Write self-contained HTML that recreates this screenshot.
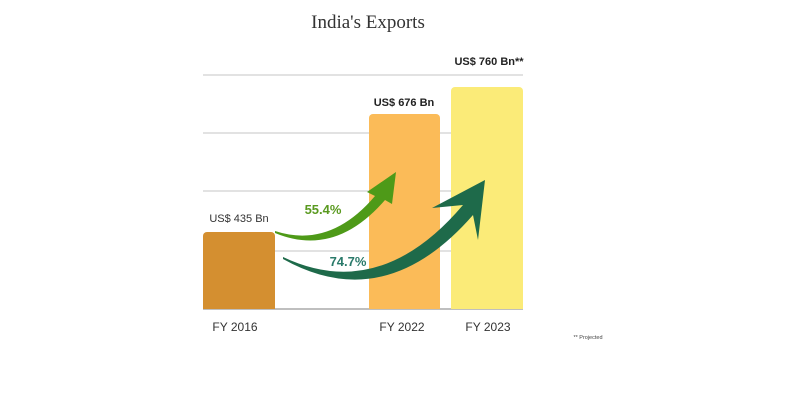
<!DOCTYPE html>
<html><head><style>
body{margin:0;background:#fff;}
svg{display:block;}
</style></head><body>
<svg width="800" height="400" viewBox="0 0 800 400" xmlns="http://www.w3.org/2000/svg">
<text x="368" y="28" text-anchor="middle" font-family="Liberation Serif, serif" font-size="19" fill="#333">India's Exports</text>
<g stroke="#d0d0d0" stroke-width="1.3">
<line x1="203" y1="75" x2="523" y2="75"/>
<line x1="203" y1="133" x2="523" y2="133"/>
<line x1="203" y1="191" x2="523" y2="191"/>
<line x1="203" y1="251" x2="523" y2="251"/>
</g>
<line x1="203" y1="309" x2="523" y2="309" stroke="#999" stroke-width="1.2"/>
<path d="M203,236 a4,4 0 0 1 4,-4 h64 a4,4 0 0 1 4,4 V309 H203Z" fill="#d48f30"/>
<path d="M369,118 a4,4 0 0 1 4,-4 h63 a4,4 0 0 1 4,4 V309 H369Z" fill="#fbbb58"/>
<path d="M451,91 a4,4 0 0 1 4,-4 h64 a4,4 0 0 1 4,4 V309 H451Z" fill="#fbeb78"/>
<g font-family="Liberation Sans, sans-serif">
<text x="239" y="222" text-anchor="middle" font-size="11" fill="#333">US$ 435 Bn</text>
<text x="404" y="106" text-anchor="middle" font-size="11" font-weight="bold" fill="#222">US$ 676 Bn</text>
<text x="489" y="65" text-anchor="middle" font-size="11" font-weight="bold" fill="#222">US$ 760 Bn**</text>
<text x="323" y="214" text-anchor="middle" font-size="13" font-weight="bold" fill="#5a9a20">55.4%</text>
<text x="348" y="266" text-anchor="middle" font-size="13" font-weight="bold" fill="#2a7a6a">74.7%</text>
<text x="235" y="331" text-anchor="middle" font-size="12" fill="#333">FY 2016</text>
<text x="402" y="331" text-anchor="middle" font-size="12" fill="#333">FY 2022</text>
<text x="488" y="331" text-anchor="middle" font-size="12" fill="#333">FY 2023</text>
<text x="588" y="339" text-anchor="middle" font-size="5.5" fill="#444">** Projected</text>
</g>
<path d="M275,231 Q330,249 375,196 L367,192 L396,172 L392,204 L385,200 Q335,258 275,233Z" fill="#4e9a18"/>
<path d="M283,257 Q380,303 463,205 L432,208 L485,180 L478,240 L473,215 Q385,316 283,259Z" fill="#1e6a4a"/>
</svg>
</body></html>
